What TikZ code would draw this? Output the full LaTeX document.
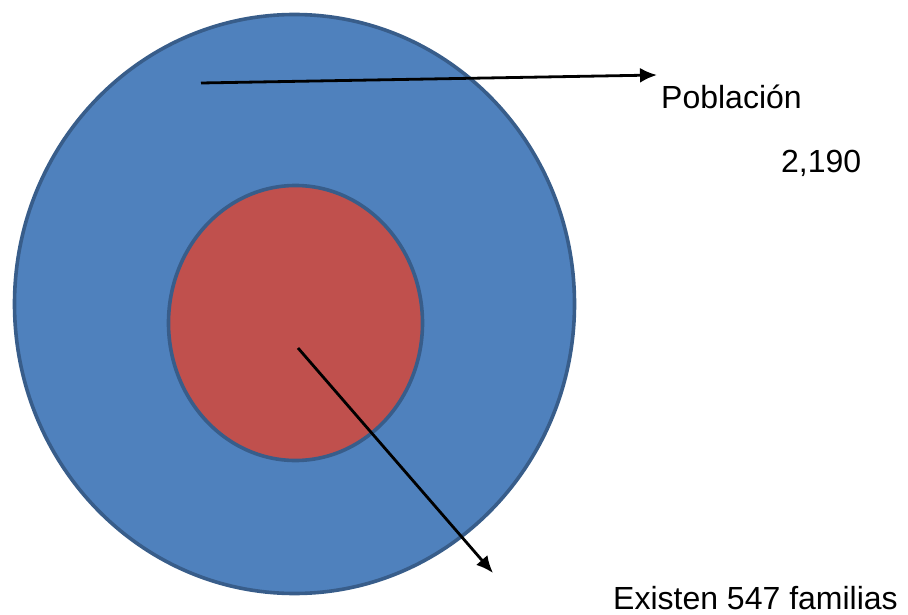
\documentclass[tikz,border=0pt]{standalone}
\usepackage{fontspec}
\setmainfont{Liberation Sans}
\usetikzlibrary{arrows.meta,shapes.geometric}
\definecolor{mycblue}{HTML}{4F81BD}
\definecolor{mycred}{HTML}{C0504D}
\definecolor{mycedge}{HTML}{385D8A}

\begin{document}
\begin{tikzpicture}[
  x=1pt,y=-1pt,
  ring/.style={ellipse,draw=mycedge,line width=3.6pt,inner sep=0pt},
  lbl/.style={anchor=base west,inner sep=0pt,font=\fontsize{32}{38}\selectfont},
  arrow/.style={-{Latex[length=17pt,width=15pt]},line width=2.8pt,black}
]
\useasboundingbox (0,0) rectangle (908,615);
\node[ring,fill=mycblue,minimum width=560pt,minimum height=579pt] (pobl) at (294.5,304) {};
\node[ring,fill=mycred,minimum width=254pt,minimum height=275pt] (fam) at (295.5,323) {};

\node[lbl] (pobltext) at (661,109) {Población};
\node[lbl] (total) at (781,173) {2,190};
\node[lbl] (famtext) at (613,609) {Existen 547 familias};

\coordinate (popstart) at (201,83);
\coordinate (popend) at (657,75);
\coordinate (famstart) at (298,348);
\coordinate (famend) at (493,573);

\draw[arrow] (popstart) -- (popend);
\draw[arrow] (famstart) -- (famend);
\end{tikzpicture}
\end{document}
